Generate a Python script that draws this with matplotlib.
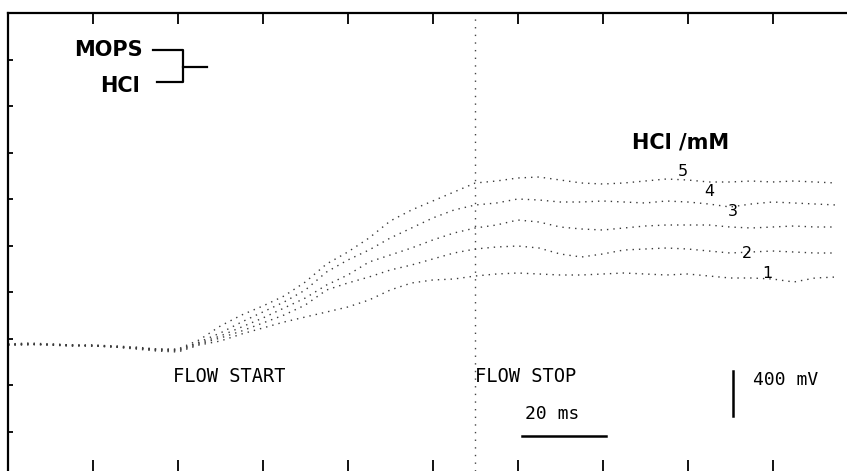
import matplotlib
matplotlib.use("Agg")
import matplotlib.pyplot as plt
import numpy as np

# time axis (ms), one sample every 5 ms
time_ms = [0, 5, 10, 15, 20, 25, 30, 35, 40, 45, 50, 55, 60, 65, 70, 75, 80, 85, 90, 95,
           100, 105, 110, 115, 120, 125, 130, 135, 140, 145, 150, 155, 160, 165, 170, 175,
           180, 185, 190, 195]

# signal (mV, relative to pre-flow baseline) for HCl concentrations 1..5 mM
trace_1 = [0, 9, 0, -9, -9, -18, -36, -54, -63,
           0, 36, 99, 153, 207, 252, 297, 342, 405, 495, 558, 585, 594, 621,
           639, 648, 639, 630, 630, 639, 648, 639, 630, 639, 621, 603, 603, 594, 567, 603, 612]
trace_2 = [9, 9, 0, 0, -9, -18, -27, -45, -54,
           9, 63, 126, 198, 270, 360, 495, 558, 612, 675, 720, 774, 828, 864,
           882, 891, 873, 819, 792, 819, 855, 864, 873, 864, 846, 828, 837, 846, 837, 828, 828]
trace_3 = [0, 0, 9, 0, -9, -9, -27, -36, -45,
           18, 81, 162, 243, 333, 423, 540, 630, 747, 810, 873, 945, 1008, 1053,
           1080, 1125, 1107, 1062, 1044, 1035, 1053, 1071, 1080, 1080, 1080, 1062, 1053, 1062, 1071, 1062, 1062]
trace_4 = [0, 9, 0, -9, 0, -18, -27, -45, -45,
           27, 108, 207, 297, 387, 495, 657, 765, 855, 963, 1053, 1143, 1215, 1260,
           1278, 1314, 1305, 1287, 1287, 1296, 1287, 1278, 1296, 1287, 1269, 1242, 1269, 1287, 1278, 1269, 1260]
trace_5 = [9, 18, 9, 0, 0, -9, -18, -36, -36,
           45, 171, 270, 351, 441, 567, 729, 837, 963, 1116, 1215, 1296, 1377, 1458,
           1476, 1503, 1512, 1485, 1458, 1449, 1458, 1476, 1494, 1485, 1467, 1467, 1476, 1467, 1476, 1467, 1458]
traces = [trace_1, trace_2, trace_3, trace_4, trace_5]
trace_labels = ["1", "2", "3", "4", "5"]
label_pos = [(178.8, 648), (173.9, 828), (170.6, 1197), (165.2, 1377), (158.8, 1557)]

flow_stop_ms = 110
scale_x_ms = 20
scale_y_mv = 400

fig = plt.figure(figsize=(8.47, 4.71), dpi=100)
ax = fig.add_axes([8 / 847, 0, 841 / 847, (471 - 13) / 471])
ax.set_xlim(0, 198)
ytop = (345 - 13) * 9
ybot = (345 - 471) * 9
ax.set_ylim(ybot, ytop)

for tr in traces:
    ax.plot(time_ms, tr, color="#3a3a3a", lw=1.0, ls=(0, (1, 3.6)),
            dash_capstyle="butt")

for lab, (lx, ly) in zip(trace_labels, label_pos):
    ax.text(lx, ly, lab, fontsize=11.5, ha="center", va="center", color="black")

ax.axvline(flow_stop_ms, color="#444444", lw=1.0, ls=(0, (1, 4.5)))

# spines & ticks
for s in ["right", "bottom"]:
    ax.spines[s].set_visible(False)
ax.spines["left"].set_linewidth(1.6)
ax.spines["top"].set_linewidth(1.6)
ax.set_xticks(np.arange(20, 198, 20))
ax.set_yticks([ytop - 418.5 * k for k in range(1, 10)])
ax.tick_params(axis="x", which="both", direction="in", top=True, bottom=True,
               length=8, width=1.3, labelbottom=False, labeltop=False)
ax.tick_params(axis="y", which="both", direction="in", left=True, right=True,
               length=3.5, width=1.3, labelleft=False, labelright=False)
for t in ax.yaxis.get_major_ticks():
    t.tick2line.set_markersize(1.5)
    t.tick2line.set_markeredgewidth(1.0)

# legend-like bracket
ax.text(31.8, 2655, "MOPS", fontsize=15, fontweight="bold", ha="right", va="center")
ax.text(31.1, 2331, "HCl", fontsize=15, fontweight="bold", ha="right", va="center")
ax.plot([34.1, 41.2, 41.2, 35.1], [2655, 2655, 2367, 2367], color="black", lw=1.6)
ax.plot([41.2, 46.8], [2502, 2502], color="black", lw=1.6)

ax.text(158.4, 1818, "HCl /mM", fontsize=15, fontweight="bold", ha="center", va="center")

mono = "DejaVu Sans Mono"
ax.text(38.8, -279, "FLOW START", family=mono, fontsize=13.5, ha="left", va="center")
ax.text(109.9, -288, "FLOW STOP", family=mono, fontsize=13.5, ha="left", va="center")
ax.text(128.2, -621, "20 ms", family=mono, fontsize=13, ha="center", va="center")
ax.plot([120.9, 120.9 + scale_x_ms], [-819, -819], color="black", lw=1.8)
ax.plot([170.6, 170.6], [-235, -235 - scale_y_mv], color="black", lw=1.8)
ax.text(175.3, -315, "400 mV", family=mono, fontsize=13, ha="left", va="center")

fig.savefig("out.png", dpi=100)
